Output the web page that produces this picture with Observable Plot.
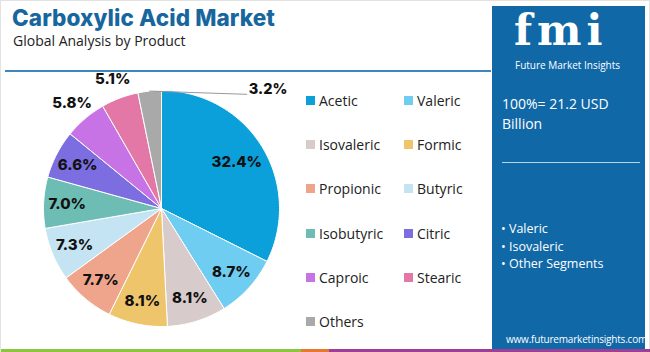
<!DOCTYPE html>
<html><head><meta charset="utf-8">
<script src="https://cdn.jsdelivr.net/npm/d3@7"></script>
<script src="https://cdn.jsdelivr.net/npm/@observablehq/plot@0.6"></script>
<style>
body{margin:0;width:650px;height:352px;overflow:hidden;background:#fff;font-family:"Open Sans",Inter,sans-serif;}
#wrap{position:relative;width:648px;height:350px;border:1px solid #e2e2e2;}
.abs{position:absolute;}
#title{left:11px;top:3px;font-family:Inter,"Open Sans",sans-serif;font-weight:800;font-size:22.5px;color:#17679e;letter-spacing:0.1px;}
#sub{left:12px;top:30px;font-family:"Open Sans",sans-serif;font-size:14px;color:#222;}
#hline{left:4px;top:69px;width:486px;height:2px;background:#3f86bd;}
.lg{font-family:"Open Sans",sans-serif;font-size:14px;color:#222;display:flex;align-items:center;}
.sw{width:9px;height:9px;margin-right:4px;}
#panel{left:491px;top:5px;width:153px;height:346px;background:#1168a7;color:#fff;font-family:"Open Sans",sans-serif;}
#strip{left:0;top:348px;width:650px;height:4px;}
</style></head>
<body><div id="wrap">
<div id="title" class="abs">Carboxylic Acid Market</div>
<div id="sub" class="abs">Global Analysis by Product</div>
<div id="hline" class="abs"></div>
<div id="chart" class="abs" style="left:15px;top:76px;"></div>
<div id="legend"></div>
<div id="panel" class="abs">
  <div class="abs" style="left:22px;top:5px;font-family:'DejaVu Serif',serif;font-weight:bold;font-size:42px;letter-spacing:5px;line-height:40px;height:40px;color:#fff;">fmi</div>
  <div class="abs" style="left:23px;top:53px;font-size:10px;line-height:12px;white-space:nowrap;">Future Market Insights</div>
  <div class="abs" style="left:10px;top:88px;font-size:14px;line-height:20px;width:140px;">100%= 21.2 USD Billion</div>
  <div class="abs" style="left:10px;top:156px;width:138px;height:1px;background:#b9d3e8;"></div>
  <div class="abs" id="bul" style="left:9px;top:214px;font-size:12.5px;line-height:17.5px;"></div>
  <div class="abs" style="left:14px;top:326px;font-size:10px;letter-spacing:-0.2px;white-space:nowrap;">www.futuremarketinsights.com</div>
</div>
<div id="strip" class="abs"></div>
</div>
<script>
const names = ["Acetic","Valeric","Isovaleric","Formic","Propionic","Butyric","Isobutyric","Citric","Caproic","Stearic","Others"];
const values = [32.4,8.7,8.1,8.1,7.7,7.3,7.0,6.6,5.8,5.1,3.2];
const colors = ["#0ba0d9","#6ecdf1","#d8cbcb","#eec56b","#eea58b","#c5e4f3","#6ebdb5","#7c6de0","#c873e5","#e377a6","#a9a9a9"];
const bullets = ["Valeric","Isovaleric","Other Segments"];

const R = 118, W = 290, H = 262, CX = 145, CY = 131;
const arcs = d3.pie().sort(null).value(d => d)(values);
const pts = [];
arcs.forEach((a, i) => {
  pts.push({name: names[i], x: 0, y: 0});
  const n = Math.max(8, Math.ceil((a.endAngle - a.startAngle) * 40));
  for (let k = 0; k <= n; k++) {
    const t = a.startAngle + (a.endAngle - a.startAngle) * k / n;
    pts.push({name: names[i], x: R * Math.sin(t), y: R * Math.cos(t)});
  }
  pts.push({name: names[i], x: 0, y: 0});
});
const labels = arcs.map((a, i) => {
  const m = (a.startAngle + a.endAngle) / 2;
  const v = values[i];
  let r = v < 4 ? null : v < 6 ? 1.17 * R : 0.8 * R;
  if (i === 0) r = 0.75 * R;
  return r === null
    ? {text: v.toFixed(1) + "%", x: 0.74 * R, y: 1.01 * R, anchor: "start", mx: R * Math.sin(m), my: R * Math.cos(m)}
    : {text: v.toFixed(1) + "%", x: r * Math.sin(m), y: r * Math.cos(m), anchor: "middle"};
});
const leader = labels.filter(d => d.anchor === "start").flatMap(d => [{x: d.mx, y: d.my}, {x: d.x - 2, y: d.y - 5}]);

const plot = Plot.plot({
  width: W, height: H, margin: 0,
  x: {domain: [-CX, W - CX], range: [0, W], axis: null},
  y: {domain: [CY, CY - H], range: [0, H], axis: null},
  color: {domain: names, range: colors},
  style: {background: "transparent", overflow: "visible"},
  marks: [
    Plot.line(pts, {x: "x", y: "y", z: "name", fill: "name", stroke: "#fff", strokeWidth: 1, curve: "linear"}),
    Plot.line(leader, {x: "x", y: "y", stroke: "#999", strokeWidth: 1}),
    Plot.text(labels.filter(d => d.anchor === "middle"), {x: "x", y: "y", text: "text", textAnchor: "middle", fontSize: 15, fontWeight: 800, fill: "#111", fontFamily: "Inter, 'Open Sans', sans-serif"}),
    Plot.text(labels.filter(d => d.anchor === "start"), {x: "x", y: "y", text: "text", textAnchor: "start", fontSize: 14.5, fontWeight: 800, fill: "#111", fontFamily: "Inter, 'Open Sans', sans-serif"})
  ]
});
document.getElementById("chart").appendChild(plot);

const lg = document.getElementById("legend");
names.forEach((n, i) => {
  const d = document.createElement("div");
  d.className = "abs lg";
  d.style.left = (i % 2 ? 403 : 305) + "px";
  d.style.top = (90 + Math.floor(i / 2) * 44.2) + "px";
  d.innerHTML = `<span class="sw" style="background:${colors[i]}"></span>${n}`;
  lg.appendChild(d);
});
document.getElementById("bul").innerHTML = bullets.map(b => "• " + b).join("<br>");
document.getElementById("strip").style.background = "linear-gradient(to right,#8cc63f 0,#8cc63f 300px,#e8782f 300px,#e8782f 328px,#9c3f95 328px)";
</script>
</body></html>
